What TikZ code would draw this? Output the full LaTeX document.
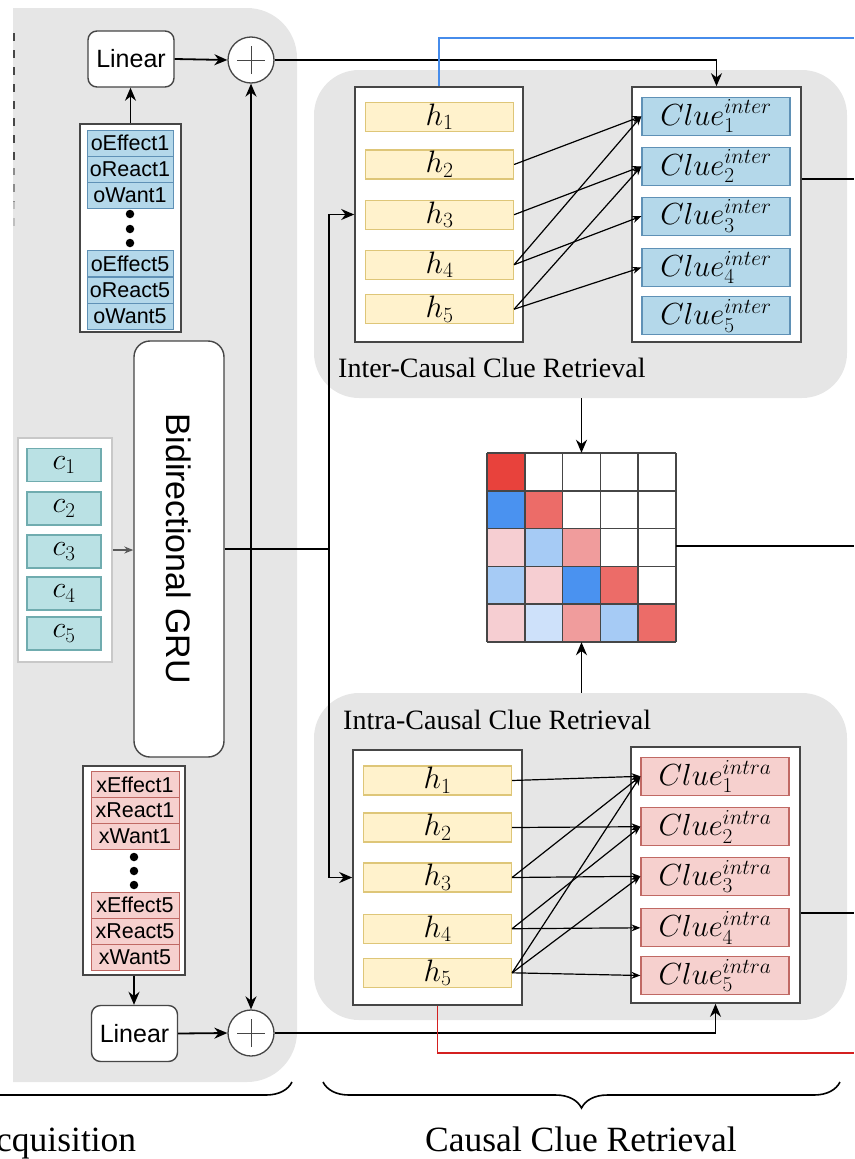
\RequirePackage{fix-cm}
\documentclass[tikz,border=0pt]{standalone}
\usepackage{fontspec}
\newfontfamily\fsans{Liberation Sans}
\newfontfamily\fserif{Liberation Serif}
\usetikzlibrary{arrows.meta,decorations.pathreplacing,calc}

\definecolor{panelgray}{RGB}{230,230,230}
\definecolor{boxline}{RGB}{70,70,70}
\definecolor{hfill}{RGB}{255,242,204}
\definecolor{hline}{RGB}{222,198,120}
\definecolor{bfill}{RGB}{180,216,234}
\definecolor{bline}{RGB}{95,145,182}
\definecolor{rfill}{RGB}{246,208,206}
\definecolor{rline}{RGB}{192,105,100}
\definecolor{tfill}{RGB}{186,225,228}
\definecolor{tline}{RGB}{112,172,175}
\definecolor{linkblue}{RGB}{70,140,235}
\definecolor{linkred}{RGB}{212,32,32}
\definecolor{mR}{RGB}{232,66,60}
\definecolor{mr}{RGB}{236,108,104}
\definecolor{mp}{RGB}{240,156,156}
\definecolor{ml}{RGB}{246,206,210}
\definecolor{mB}{RGB}{74,146,240}
\definecolor{mb}{RGB}{166,203,245}
\definecolor{mv}{RGB}{206,225,250}

\tikzset{
  panel/.style={fill=panelgray, draw=none, rounded corners=45pt, inner sep=0},
  holder/.style={draw=boxline, fill=white, line width=1.6pt, inner sep=0},
  hcell/.style={draw=hline, fill=hfill, line width=1.2pt, inner sep=0,
    minimum width=148pt, minimum height=29pt, font=\fontsize{31}{33}\selectfont},
  bcell/.style={draw=bline, fill=bfill, line width=1.2pt, inner sep=0,
    minimum width=148pt, minimum height=38pt, font=\fontsize{30.5}{32}\selectfont},
  rcell/.style={draw=rline, fill=rfill, line width=1.2pt, inner sep=0,
    minimum width=148pt, minimum height=38pt, font=\fontsize{30.5}{32}\selectfont},
  ccell/.style={draw=tline, fill=tfill, line width=1.2pt, inner sep=0,
    minimum width=74pt, minimum height=33pt, font=\fontsize{30}{32}\selectfont},
  ocell/.style={draw=bline, fill=bfill, line width=0.9pt, inner sep=0,
    minimum width=86pt, minimum height=26pt, font=\fsans\fontsize{21.5}{22}\selectfont},
  xcell/.style={draw=rline, fill=rfill, line width=0.9pt, inner sep=0,
    minimum width=88pt, minimum height=26pt, font=\fsans\fontsize{21.5}{22}\selectfont},
  linbox/.style={draw=boxline, fill=white, rounded corners=9pt, line width=1.4pt,
    minimum width=86pt, minimum height=56pt, inner sep=0, font=\fsans\fontsize{25}{27}\selectfont},
  plusnode/.style={circle, draw=boxline, fill=white, line width=1.3pt, minimum size=46pt, inner sep=0,
    path picture={\draw[line width=1pt]
      ([xshift=-14pt]path picture bounding box.center) -- ([xshift=14pt]path picture bounding box.center)
      ([yshift=-14pt]path picture bounding box.center) -- ([yshift=14pt]path picture bounding box.center);}},
  link/.style={line width=1.8pt, black},
  bigarrow/.style={link, -{Stealth[length=13pt,width=11pt]}},
  smallarrow/.style={line width=1.2pt, black, -{Stealth[length=9pt,width=7pt]}},
  title/.style={inner sep=0, font=\fserif\fontsize{28}{30}\selectfont},
  bottomtitle/.style={inner sep=0, font=\fserif\fontsize{35.5}{37}\selectfont},
  bracestyle/.style={line width=1.6pt, black, decorate, decoration={brace, amplitude=26pt}},
  dotmark/.style={circle, fill=black, inner sep=0, minimum size=8.5pt},
  edgedash/.style={line width=2pt, dash pattern=on 8pt off 9pt},
}

\begin{document}
\begin{tikzpicture}[x=1pt, y=-1pt]
\useasboundingbox (0,0) rectangle (854,1159);
\clip (0,0) rectangle (854,1159);

% ---------- left panel: knowledge side ----------
\begin{scope}
  \clip (13,0) rectangle (854,1159);
  \fill[panelgray, rounded corners=50pt] (-80,8) rectangle (297,1082);
\end{scope}
% dashed edge of the neighbouring block, fading downwards
\draw[edgedash, boxline] (14,33) -- (14,168);
\draw[edgedash, black!45, dash phase=1pt] (14,168) -- (14,202);
\draw[edgedash, black!25, dash phase=1pt] (14,202) -- (14,228);

% ---------- right panels ----------
\node[panel, minimum width=533pt, minimum height=328pt] (interP) at (580.5,234) {};
\node[panel, minimum width=533pt, minimum height=327pt] (intraP) at (580.5,856.5) {};
\node[title, anchor=base west] (interT) at (338,377) {Inter-Causal Clue Retrieval};
\node[title, anchor=base west] (intraT) at (343,729) {Intra-Causal Clue Retrieval};

% ---------- oEffect stack ----------
\node[holder, minimum width=101pt, minimum height=208pt] (ob) at (130.5,228) {};
\node[ocell] (o1) at (130,143) {oEffect1};
\node[ocell] (o2) at (130,169) {oReact1};
\node[ocell] (o3) at (130,195) {oWant1};
\node[dotmark] (od1) at (130,214) {};
\node[dotmark] (od2) at (130,229) {};
\node[dotmark] (od3) at (130,243) {};
\node[ocell] (o4) at (130,263.5) {oEffect5};
\node[ocell] (o5) at (130,290) {oReact5};
\node[ocell] (o6) at (130,316) {oWant5};

% ---------- xEffect stack ----------
\node[holder, minimum width=102pt, minimum height=209pt] (xb) at (134,870.5) {};
\node[xcell] (x1) at (135,784.5) {xEffect1};
\node[xcell] (x2) at (135,810) {xReact1};
\node[xcell] (x3) at (135,836.5) {xWant1};
\node[dotmark] (xd1) at (134,857) {};
\node[dotmark] (xd2) at (134,871) {};
\node[dotmark] (xd3) at (134,885) {};
\node[xcell] (x4) at (135,905) {xEffect5};
\node[xcell] (x5) at (135,931) {xReact5};
\node[xcell] (x6) at (135,957) {xWant5};

% ---------- linear layers and sums ----------
\node[linbox] (lin1) at (131,59) {Linear};
\node[linbox] (lin2) at (134.5,1033.5) {Linear};
\node[plusnode] (p1) at (251,60) {};
\node[plusnode] (p2) at (251,1033) {};

% ---------- utterances and GRU ----------
\node[holder, draw={rgb,255:red,200;green,200;blue,200}, line width=1.4pt,
      minimum width=94pt, minimum height=224pt] (cb) at (65,550) {};
\node[ccell] (c1) at (64,465) {$c_1$};
\node[ccell] (c2) at (64,508.5) {$c_2$};
\node[ccell] (c3) at (64,551.5) {$c_3$};
\node[ccell] (c4) at (64,593.5) {$c_4$};
\node[ccell] (c5) at (64,633.5) {$c_5$};

\node[draw=boxline, fill=white, line width=1.4pt, rounded corners=16pt,
      minimum width=90pt, minimum height=416pt, inner sep=0] (gru) at (179,549) {};
\node[rotate=-90, inner sep=0, font=\fsans\fontsize{34}{36}\selectfont] (gruT) at (gru.center) {Bidirectional GRU};

% ---------- inter-causal block ----------
\node[holder, minimum width=168pt, minimum height=255pt] (iH) at (439,214.5) {};
\node[hcell] (ih1) at (439.5,116.7) {$h_1$};
\node[hcell] (ih2) at (439.5,164.5) {$h_2$};
\node[hcell] (ih3) at (439.5,214.7) {$h_3$};
\node[hcell] (ih4) at (439.5,264.7) {$h_4$};
\node[hcell] (ih5) at (439.5,309.2) {$h_5$};

\node[holder, minimum width=169pt, minimum height=255pt] (iC) at (716.5,214.5) {};
\node[bcell] (ic1) at (716,116.3) {$Clue^{inter}_1$};
\node[bcell] (ic2) at (716,166.3) {$Clue^{inter}_2$};
\node[bcell] (ic3) at (716,216.2) {$Clue^{inter}_3$};
\node[bcell] (ic4) at (716,267.5) {$Clue^{inter}_4$};
\node[bcell] (ic5) at (716,315.8) {$Clue^{inter}_5$};

\foreach \a/\b in {2/1, 3/2, 4/1, 4/3, 5/2, 5/4}
  \draw[smallarrow] (ih\a.east) -- (ic\b.west);

% ---------- intra-causal block ----------
\node[holder, minimum width=169pt, minimum height=255pt] (aH) at (437.5,877.5) {};
\node[hcell] (ah1) at (437.5,780.5) {$h_1$};
\node[hcell] (ah2) at (437.5,827.5) {$h_2$};
\node[hcell] (ah3) at (437.5,877.5) {$h_3$};
\node[hcell] (ah4) at (437.5,928.7) {$h_4$};
\node[hcell] (ah5) at (437.5,972.8) {$h_5$};

\node[holder, minimum width=169pt, minimum height=256pt] (aC) at (715.5,875) {};
\node[rcell] (ac1) at (715,776.3) {$Clue^{intra}_1$};
\node[rcell] (ac2) at (715,826.7) {$Clue^{intra}_2$};
\node[rcell] (ac3) at (715,876.3) {$Clue^{intra}_3$};
\node[rcell] (ac4) at (715,927.8) {$Clue^{intra}_4$};
\node[rcell] (ac5) at (715,975.5) {$Clue^{intra}_5$};

\foreach \a/\b in {1/1, 2/2, 3/3, 4/4, 5/5, 3/1, 4/2, 5/3, 5/1}
  \draw[smallarrow] (ah\a.east) -- (ac\b.west);

% ---------- clue matrix ----------
\node[inner sep=0, minimum size=189pt] (attn) at (581.5,547.5) {};
\foreach \c [count=\k from 0] in {mR,white,white,white,white,
                                  mB,mr,white,white,white,
                                  ml,mb,mp,white,white,
                                  mb,ml,mB,mr,white,
                                  ml,mv,mp,mb,mr} {
  \pgfmathtruncatemacro\rr{\k/5}
  \pgfmathtruncatemacro\cc{mod(\k,5)}
  \fill[\c] (487+\cc*37.8, 453+\rr*37.8) rectangle ++(37.8,37.8);
}
\foreach \i in {0,...,5} {
  \draw[boxline, line width=1.5pt] (487+\i*37.8,453) -- (487+\i*37.8,642);
  \draw[boxline, line width=1.5pt] (487,453+\i*37.8) -- (676,453+\i*37.8);
}

% ---------- free ends on the right ----------
\coordinate (blueEnd) at (854,38);
\coordinate (interOut) at (854,179);
\coordinate (attnOut) at (854,546);
\coordinate (intraOut) at (854,913);
\coordinate (redEnd) at (854,1053);
\coordinate (jn) at (329,549);
\coordinate (jv) at (251,549);

% ---------- connectors ----------
\draw[bigarrow] (ob.north) -- (ob.north |- lin1.south);
\draw[bigarrow] (lin1.east) -- (p1.west);
\draw[bigarrow] (p1.east) -| (iC.north);
\draw[linkblue, line width=1.8pt] (iH.north) |- (blueEnd);
\draw[link] (iC.east |- interOut) -- (interOut);

\draw[-{Stealth[length=9pt,width=7pt]}, line width=1.3pt, black!65] (cb.east) -- (gru.west |- cb.east);
\draw[link] (gru.east) -- (jn);
\draw[bigarrow] (jn) |- (iH.west);
\draw[bigarrow] (jn) |- (aH.west);
\draw[bigarrow] (jv) -- (p1.south);
\draw[bigarrow] (jv) -- (p2.north);

\draw[bigarrow] (xb.south) -- (xb.south |- lin2.north);
\draw[bigarrow] (lin2.east) -- (p2.west);
\draw[bigarrow] (p2.east) -| (aC.south);
\draw[linkred, line width=1.8pt] (aH.south) |- (redEnd);
\draw[link] (aC.east |- intraOut) -- (intraOut);

\draw[bigarrow] (attn.north |- interP.south) -- (attn.north);
\draw[bigarrow] (attn.south |- intraP.north) -- (attn.south);
\draw[link] (attn.east |- attnOut) -- (attnOut);

% ---------- braces and captions ----------
\draw[bracestyle] (292,1082) -- (-700,1082);
\draw[bracestyle] (840,1082) -- (323,1082);
\node[bottomtitle, anchor=base west] (acqT) at (-4,1151) {cquisition};
\node[bottomtitle, anchor=base] (ccrT) at (581,1151) {Causal Clue Retrieval};
\end{tikzpicture}
\end{document}
